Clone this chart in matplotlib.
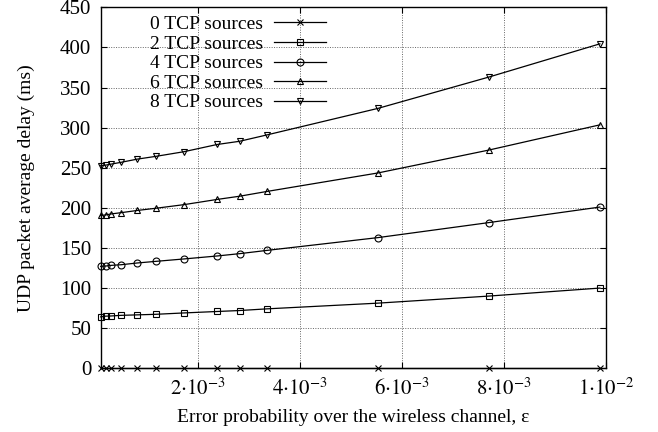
import matplotlib
matplotlib.use("Agg")
import matplotlib.pyplot as plt

plt.rcParams['font.family'] = ['Liberation Serif', 'DejaVu Serif']
plt.rcParams['mathtext.fontset'] = 'stix'

# error probability (x) and average delay (ms) per number of TCP sources
eps = [1.0e-4, 2.0e-4, 3.0e-4, 5.0e-4, 8.2e-4, 1.18e-3, 1.73e-3,
       2.38e-3, 2.82e-3, 3.36e-3, 5.53e-3, 7.7e-3, 9.88e-3]
delay_0 = [0.2] * 13
delay_2 = [64.1, 65.0, 65.2, 66.0, 66.6, 67.3, 69.0, 70.8, 72.0, 74.1, 81.2, 90.0, 100.0]
delay_4 = [127.0, 127.5, 128.3, 129.1, 131.3, 133.3, 136.3, 140.0, 142.9, 147.0, 162.9, 181.6, 201.0]
delay_6 = [190.5, 191.2, 192.4, 194.0, 196.8, 199.5, 204.0, 210.5, 214.5, 220.5, 243.5, 272.0, 303.5]
delay_8 = [252.5, 253.3, 254.5, 256.8, 260.8, 264.2, 270.0, 279.0, 283.0, 291.0, 324.0, 363.0, 404.5]

labels = ["0 TCP sources", "2 TCP sources", "4 TCP sources", "6 TCP sources", "8 TCP sources"]
markers = ["x", "s", "o", "^", "v"]
xticks = [2e-3, 4e-3, 6e-3, 8e-3, 1e-2]
xtick_labels = [r"$2{\cdot}10^{-3}$", r"$4{\cdot}10^{-3}$", r"$6{\cdot}10^{-3}$",
                r"$8{\cdot}10^{-3}$", r"$1{\cdot}10^{-2}$"]

fig = plt.figure(figsize=(6.58, 4.32), dpi=100)
ax = fig.add_axes([0.1535, 0.1475, 0.7675, 0.8355])

for ys, lab, m in zip([delay_0, delay_2, delay_4, delay_6, delay_8], labels, markers):
    ax.plot(eps, ys, color="black", lw=0.9, marker=m, markersize=5,
            markerfacecolor="none", markeredgewidth=0.8, label=lab, clip_on=False)

ax.set_xlim(1.06e-4, 1e-2)
ax.set_ylim(0, 450)
ax.set_xticks(xticks)
ax.set_xticklabels(xtick_labels)
ax.set_yticks(range(0, 451, 50))

ax.grid(True, linestyle=(0, (1, 1.5)), color="#666666", lw=0.7)
ax.tick_params(direction="in", top=True, right=True, length=4, width=0.8,
               labelsize=15, pad=7)
for s in ax.spines.values():
    s.set_linewidth(1.0)

ax.set_xlabel("Error probability over the wireless channel, ε", fontsize=14)
ax.set_ylabel("UDP packet average delay (ms)", fontsize=14)
ax.xaxis.set_label_coords(0.5, -0.112)
ax.yaxis.set_label_coords(-0.13, 0.5)

ax.legend(loc="upper left", bbox_to_anchor=(0.097, 0.977), frameon=False, fontsize=14,
          markerfirst=False, handlelength=2.7, labelspacing=0.1, borderaxespad=0.0,
          borderpad=0.0, handletextpad=0.55)

fig.savefig("out.png", dpi=100)
